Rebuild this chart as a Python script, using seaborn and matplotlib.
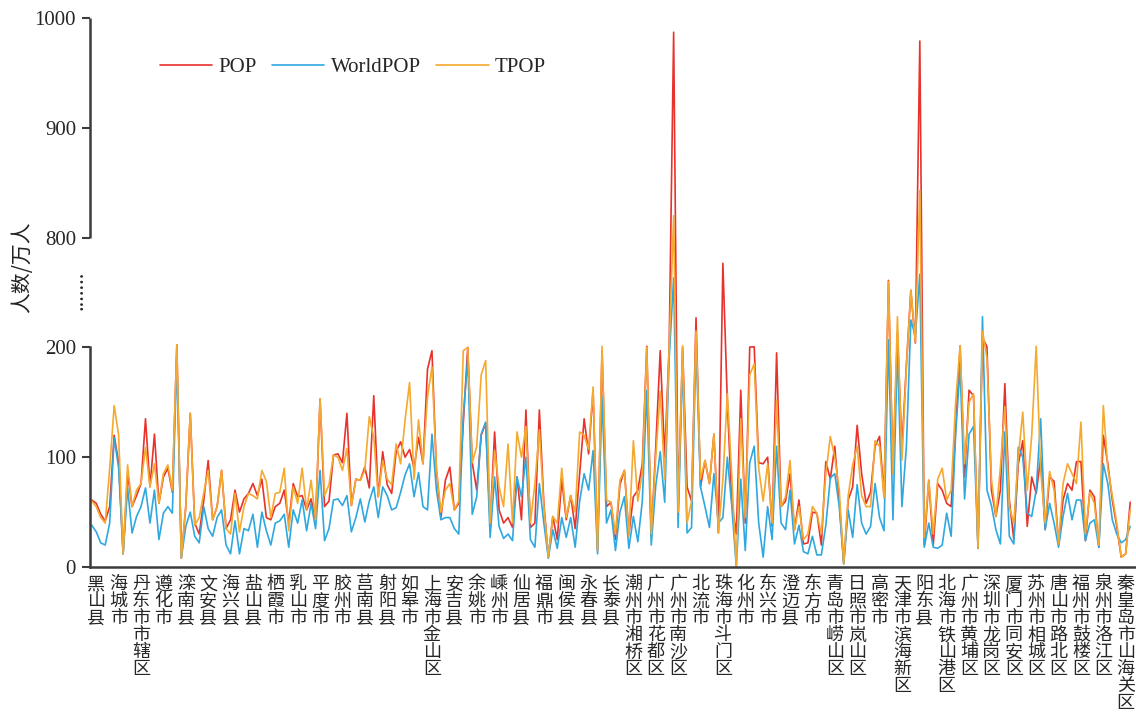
import numpy as np
import pandas as pd
import seaborn as sns
import matplotlib
matplotlib.use('Agg')
import matplotlib.pyplot as plt

# county / district labels (one every 5 samples)
regions = ['黑山县', '海城市', '丹东市市辖区', '遵化市', '滦南县', '文安县', '海兴县', '盐山县',
           '栖霞市', '乳山市', '平度市', '胶州市', '莒南县', '射阳县', '如皋市', '上海市金山区',
           '安吉县', '余姚市', '嵊州市', '仙居县', '福鼎市', '闽侯县', '永春县', '长泰县',
           '潮州市湘桥区', '广州市花都区', '广州市南沙区', '北流市', '珠海市斗门区', '化州市',
           '东兴市', '澄迈县', '东方市', '青岛市崂山区', '日照市岚山区', '高密市', '天津市滨海新区',
           '阳东县', '北海市铁山港区', '广州市黄埔区', '深圳市龙岗区', '厦门市同安区', '苏州市相城区',
           '唐山市路北区', '福州市鼓楼区', '泉州市洛江区', '秦皇岛市山海关区']

# population estimates, 10k persons
pop = [61, 58, 48, 42, 55, 120, 95, 12, 85, 55, 65, 76, 135, 73, 121, 58, 82, 90, 68, 214,
       8, 55, 140, 40, 30, 60, 97, 43, 55, 88, 35, 43, 70, 50, 62, 67, 76, 65, 80, 45,
       43, 55, 58, 70, 40, 76, 64, 65, 52, 62, 43, 153, 55, 60, 102, 103, 95, 140, 56, 80,
       79, 91, 72, 156, 64, 105, 75, 67, 105, 114, 100, 107, 90, 118, 94, 180, 197, 88, 45, 79,
       91, 52, 58, 131, 200, 95, 70, 120, 131, 40, 123, 52, 40, 45, 36, 82, 43, 143, 36, 40,
       143, 58, 9, 46, 25, 80, 43, 65, 35, 85, 135, 103, 160, 15, 197, 55, 59, 25, 75, 88,
       30, 64, 70, 94, 206, 28, 109, 197, 100, 203, 987, 52, 200, 73, 60, 362, 73, 97, 76, 121,
       31, 660, 150, 58, 30, 161, 40, 202, 203, 95, 94, 100, 37, 195, 55, 60, 85, 34, 61, 21,
       22, 50, 49, 20, 96, 80, 110, 60, 3, 61, 73, 129, 85, 58, 68, 110, 119, 65, 566, 85,
       278, 108, 184, 512, 224, 979, 20, 79, 20, 76, 70, 58, 55, 125, 208, 82, 161, 156, 17, 255,
       203, 70, 46, 70, 167, 61, 25, 94, 115, 37, 82, 67, 100, 34, 82, 78, 21, 61, 76, 70,
       96, 96, 24, 70, 64, 18, 120, 94, 61, 37, 9, 12, 59]
worldpop = [38, 32, 22, 20, 40, 118, 90, 12, 72, 31, 46, 55, 72, 40, 70, 25, 49, 55, 49, 190,
            8, 37, 50, 28, 22, 55, 35, 28, 45, 52, 20, 12, 42, 12, 35, 33, 48, 18, 50, 33,
            20, 40, 42, 48, 18, 52, 40, 61, 33, 58, 35, 88, 24, 35, 61, 62, 56, 65, 32, 45,
            62, 41, 60, 73, 45, 73, 65, 52, 54, 68, 84, 94, 64, 86, 55, 52, 121, 70, 43, 45,
            45, 35, 30, 138, 190, 48, 64, 121, 132, 27, 82, 37, 26, 30, 24, 82, 64, 100, 25, 18,
            76, 40, 8, 34, 17, 45, 27, 45, 18, 60, 85, 70, 106, 12, 155, 40, 52, 15, 50, 64,
            17, 46, 23, 60, 161, 20, 74, 105, 59, 190, 580, 36, 188, 31, 36, 218, 73, 55, 36, 85,
            40, 45, 100, 55, 0, 80, 15, 95, 110, 40, 9, 55, 25, 110, 40, 34, 70, 21, 38, 14,
            12, 28, 11, 11, 38, 81, 85, 55, 3, 52, 27, 75, 40, 30, 37, 76, 45, 33, 242, 43,
            200, 55, 110, 350, 260, 600, 18, 40, 18, 17, 20, 49, 28, 121, 182, 62, 121, 128, 17, 368,
            70, 56, 34, 21, 123, 28, 21, 109, 100, 49, 46, 70, 135, 34, 58, 40, 18, 46, 67, 43,
            61, 61, 24, 40, 43, 18, 94, 76, 43, 30, 22, 25, 37]
tpop = [60, 55, 45, 40, 90, 147, 120, 12, 93, 55, 70, 76, 109, 73, 94, 58, 85, 93, 70, 214,
        8, 55, 140, 38, 45, 67, 88, 43, 55, 88, 35, 30, 67, 32, 55, 67, 65, 62, 88, 78,
        45, 67, 68, 90, 33, 73, 58, 90, 52, 79, 43, 153, 65, 75, 102, 100, 88, 108, 56, 80,
        79, 88, 137, 118, 64, 97, 80, 75, 112, 94, 134, 168, 80, 134, 94, 155, 182, 90, 50, 70,
        76, 52, 60, 197, 200, 95, 110, 175, 188, 40, 106, 73, 55, 112, 40, 123, 100, 128, 40, 76,
        125, 55, 9, 46, 40, 90, 45, 65, 50, 123, 120, 107, 164, 15, 206, 61, 59, 30, 79, 88,
        28, 115, 60, 86, 200, 30, 100, 160, 80, 203, 820, 50, 209, 40, 60, 290, 80, 97, 76, 121,
        31, 80, 158, 82, 0, 135, 45, 175, 185, 90, 60, 94, 40, 152, 55, 64, 97, 34, 55, 25,
        30, 55, 49, 30, 85, 119, 100, 70, 3, 65, 93, 110, 65, 55, 55, 115, 110, 63, 560, 85,
        368, 97, 182, 512, 230, 843, 27, 79, 30, 80, 90, 61, 70, 150, 208, 94, 150, 158, 17, 290,
        190, 80, 46, 91, 146, 55, 40, 100, 141, 70, 120, 206, 88, 40, 87, 70, 21, 76, 94, 85,
        76, 132, 30, 68, 58, 20, 147, 90, 65, 40, 9, 12, 52]

series = ['POP', 'WorldPOP', 'TPOP']
colors = ['#E8322B', '#2FA8E0', '#F5A92E']


# broken axis: 200-800 squeezed into one 100-unit band, 800-1000 shifted down
def fwd(v):
    v = np.asarray(v, dtype=float)
    return np.where(v <= 200, v, np.where(v <= 800, 200 + (v - 200) / 6.0, v - 500))


def inv(t):
    t = np.asarray(t, dtype=float)
    return np.where(t <= 200, t, np.where(t <= 300, 200 + (t - 200) * 6.0, t + 500))


def main():
    n = len(pop)
    df = pd.DataFrame({'idx': np.arange(n), 'POP': pop, 'WorldPOP': worldpop, 'TPOP': tpop})

    sns.set_style('white')
    plt.rcParams['font.family'] = ['Liberation Serif', 'Noto Sans CJK SC']
    cjk = ['Noto Sans CJK SC', 'DejaVu Sans']
    axis_col = '#3c3c3c'

    fig = plt.figure(figsize=(11.36, 7.19), dpi=100)
    ax = fig.add_axes([90 / 1136, 1 - 567 / 719, 1 - 90 / 1136, (567 - 18) / 719])

    for name, col in zip(series, colors):
        sns.lineplot(data=df, x='idx', y=name, color=col, linewidth=1.2, label=name, ax=ax)

    ax.set_yscale('function', functions=(fwd, inv))
    ax.set_ylim(0, 1000)
    ax.set_xlim(-0.4, 233.3)
    ax.set_yticks([0, 100, 200, 800, 900, 1000])
    ax.set_yticklabels(['0', '100', '200', '800', '900', '1000'], fontsize=15)
    ax.set_xticks(np.arange(len(regions)) * 5 + 1)
    ax.set_xticklabels(['\n'.join(r) for r in regions], family=cjk, fontsize=13,
                       linespacing=0.93, va='top')
    ax.set_xlabel('')
    ax.set_ylabel('')

    ax.tick_params(axis='y', length=6, width=1.5, color=axis_col, pad=4, left=True)
    ax.tick_params(axis='x', length=0, pad=6)

    sns.despine(ax=ax)
    for side in ['left', 'bottom']:
        ax.spines[side].set_color(axis_col)
        ax.spines[side].set_linewidth(1.8)
    ax.spines['left'].set_bounds(0, 200)
    ax.plot([0, 0], [800, 1000], transform=ax.get_yaxis_transform(), color=axis_col,
            lw=1.8, clip_on=False, solid_capstyle='butt')
    ax.text(-0.011, 510, '.......', transform=ax.get_yaxis_transform(), rotation=90,
            ha='center', va='center', fontsize=16, color='#222222')

    fig.text(22 / 1136, 1 - 267 / 719, '人数/万人', family=cjk, rotation=90,
             ha='center', va='center', fontsize=15, color='#222222')

    ax.legend(loc='center left', bbox_to_anchor=(0.067, 0.91), ncol=3, frameon=False,
              fontsize=15, handlelength=2.5, handletextpad=0.3, columnspacing=0.75,
              borderpad=0, borderaxespad=0)

    fig.savefig('out.png', dpi=100)


if __name__ == '__main__':
    main()
